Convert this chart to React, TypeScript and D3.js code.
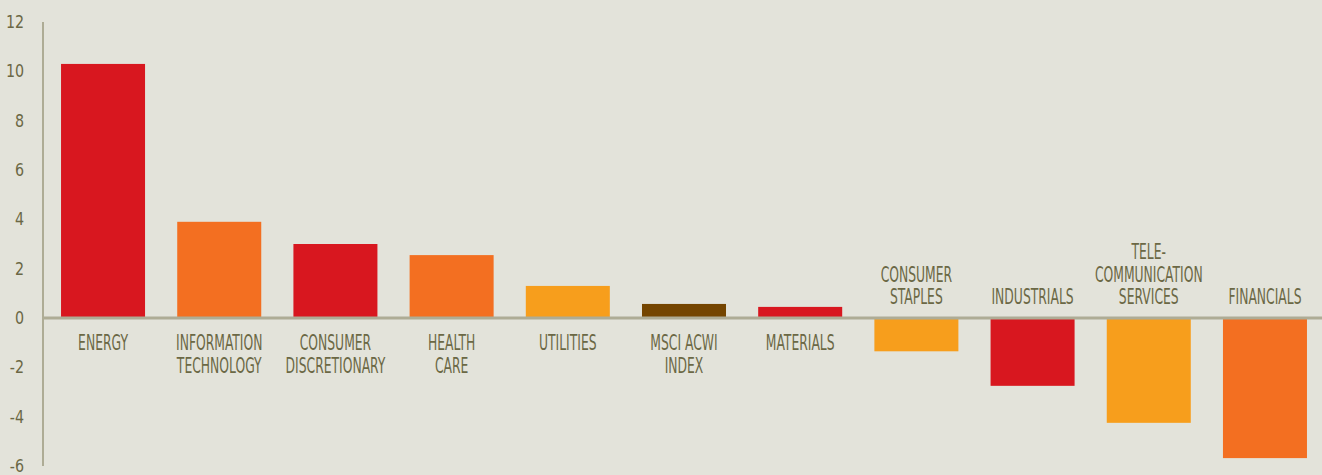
import React from "react";
import * as d3 from "d3";

// sector returns
const categories = [
  "ENERGY",
  "INFORMATION TECHNOLOGY",
  "CONSUMER DISCRETIONARY",
  "HEALTH CARE",
  "UTILITIES",
  "MSCI ACWI INDEX",
  "MATERIALS",
  "CONSUMER STAPLES",
  "INDUSTRIALS",
  "TELECOMMUNICATION SERVICES",
  "FINANCIALS",
];
const labelLines = [
  ["ENERGY"],
  ["INFORMATION", "TECHNOLOGY"],
  ["CONSUMER", "DISCRETIONARY"],
  ["HEALTH", "CARE"],
  ["UTILITIES"],
  ["MSCI ACWI", "INDEX"],
  ["MATERIALS"],
  ["CONSUMER", "STAPLES"],
  ["INDUSTRIALS"],
  ["TELE-", "COMMUNICATION", "SERVICES"],
  ["FINANCIALS"],
];
const values = [10.3, 3.9, 3.0, 2.55, 1.3, 0.57, 0.45, -1.35, -2.75, -4.25, -5.68];
const colorKeys = ["red", "orange", "red", "orange", "amber", "brown", "red", "amber", "red", "amber", "orange"];
const yTicks = [12, 10, 8, 6, 4, 2, 0, -2, -4, -6];

const palette: Record<string, string> = {
  red: "#d8171f",
  orange: "#f36f21",
  amber: "#f79e1c",
  brown: "#744500",
};

const W = 1322;
const H = 475;
const textColor = "#6b6845";
const axisColor = "#aeac95";
const font = "'Liberation Sans Narrow', 'DejaVu Sans Condensed', 'Liberation Sans', sans-serif";

export default function App() {
  const x = d3.scaleBand<string>().domain(categories).range([45, 1323]).paddingInner(0.277).paddingOuter(0.138);
  const y = d3.scaleLinear().domain([-6, 12]).range([466, 22]);
  const y0 = y(0);

  return (
    <div style={{ position: "fixed", left: 0, top: 0 }}>
      <svg width={W} height={H} style={{ display: "block", background: "#e3e3da" }}>
        {/* bars */}
        {categories.map((c, i) => {
          const v = values[i];
          return (
            <rect
              key={c}
              x={x(c)}
              width={x.bandwidth()}
              y={v >= 0 ? y(v) : y0}
              height={Math.abs(y(v) - y0)}
              fill={palette[colorKeys[i]]}
            />
          );
        })}

        {/* axes */}
        <line x1={43} x2={43} y1={y(12)} y2={y(-6)} stroke={axisColor} strokeWidth={2} />
        <line x1={43} x2={W} y1={y0} y2={y0} stroke={axisColor} strokeWidth={3} />

        {/* y tick labels */}
        {yTicks.map((t) => (
          <text
            key={t}
            transform={`translate(24,${y(t) + 6}) scale(0.88,1)`}
            textAnchor="end"
            fontFamily={font}
            fontSize={18}
            fill={textColor}
          >
            {t}
          </text>
        ))}

        {/* category labels */}
        {categories.map((c, i) => {
          const cx = (x(c) as number) + x.bandwidth() / 2;
          const lines = labelLines[i];
          const pos = values[i] >= 0;
          return lines.map((ln, j) => {
            const by = pos ? y0 + 32 + j * 22.5 : y0 - 14 - (lines.length - 1 - j) * 22.5;
            return (
              <text
                key={c + j}
                transform={`translate(${cx},${by}) scale(0.67,1)`}
                textAnchor="middle"
                fontFamily={font}
                fontSize={20.5}
                fill={textColor}
              >
                {ln}
              </text>
            );
          });
        })}
      </svg>
    </div>
  );
}
